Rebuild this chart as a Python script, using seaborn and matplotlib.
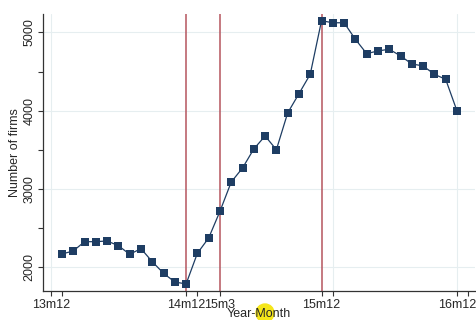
import numpy as np
import pandas as pd
import matplotlib
matplotlib.use("Agg")
import matplotlib.pyplot as plt
from matplotlib.patches import Circle
import seaborn as sns

# Monthly counts, 14m1 .. 16m12 (month index 1 = 14m1, 0 = 13m12)
month_index = list(range(1, 37))
firms = [2170, 2208, 2327, 2327, 2336, 2276, 2166, 2238, 2072, 1923, 1812, 1787,
         2179, 2374, 2715, 3089, 3268, 3511, 3677, 3502, 3971, 4217, 4465, 5149,
         5123, 5123, 4912, 4729, 4763, 4785, 4700, 4597, 4572, 4465, 4401, 3999]

tick_pos = [0, 12, 15, 24, 36]
tick_labels = ["13m12", "14m12", "15m3", "15m12", "16m12"]
event_months = [12, 15, 24]
year_start_ticks = [1, 13, 25, 37]

df = pd.DataFrame({"month": month_index, "firms": firms})

sns.set_style("white")
plt.rcParams["font.family"] = ["Liberation Sans", "DejaVu Sans"]

fig = plt.figure(figsize=(4.77, 3.2), dpi=100)
ax = fig.add_axes([43 / 477, 29 / 320, 432 / 477, 277 / 320])

# faint grid
for v in [2000, 3000, 4000, 5000]:
    ax.axhline(v, color="#e6eef0", lw=0.8, zorder=0)
for v in [0, 25, 36]:
    ax.axvline(v, color="#e6eef0", lw=0.8, zorder=0)

for m in event_months:
    ax.axvline(m, color="#b5555e", lw=1.1, zorder=1)

sns.lineplot(data=df, x="month", y="firms", ax=ax, color="#1e3d63",
             marker="s", markersize=6, markeredgewidth=0, lw=0.9, zorder=3)

ax.set_xlim(-0.68, 37.6)
ax.set_ylim(1697, 5235)

ax.set_xticks(tick_pos)
ax.set_xticklabels(tick_labels, fontsize=9)
ax.set_xticks(year_start_ticks, minor=True)
ax.set_yticks([2000, 3000, 4000, 5000])
ax.set_yticklabels(["2000", "3000", "4000", "5000"], rotation=90, va="center", fontsize=9)
ax.set_yticks([2500, 3500, 4500], minor=True)
ax.tick_params(axis="both", which="both", direction="out", length=3.5, width=0.8,
               color="#333333", pad=2, bottom=True, left=True)

for side in ["top", "right"]:
    ax.spines[side].set_visible(False)
for side in ["left", "bottom"]:
    ax.spines[side].set_color("#333333")
    ax.spines[side].set_linewidth(0.9)

ax.set_xlabel("Year-Month", fontsize=9)
ax.set_ylabel("Number of firms", fontsize=9)
ax.xaxis.set_label_coords(0.5, -0.083)
ax.xaxis.label.set_va("center")
ax.yaxis.set_label_coords(-0.065, 0.5)
ax.yaxis.label.set_va("center")

# yellow highlight behind the x label (drawn below the axis artists)
ax.add_patch(Circle((265, 7), 9, transform=None, color="#f5e61a",
                    clip_on=False, zorder=0.5))

fig.savefig("out.png", dpi=100)
